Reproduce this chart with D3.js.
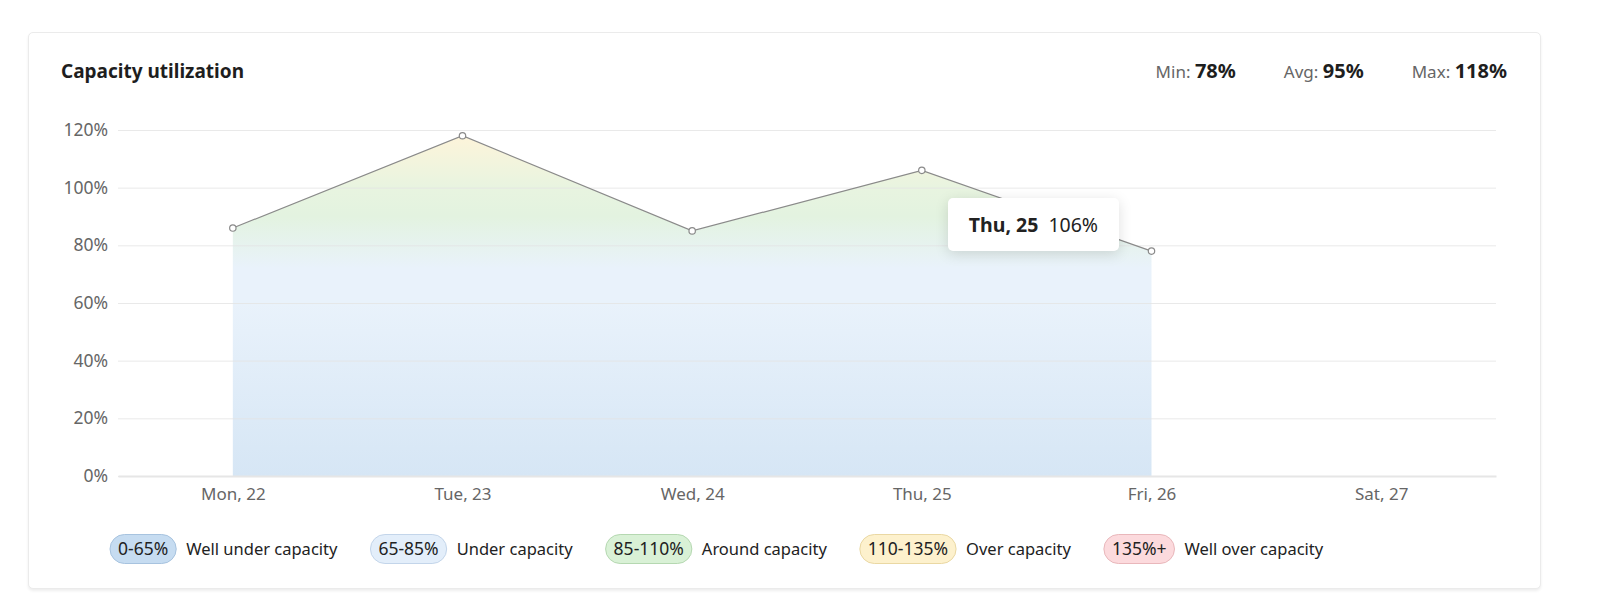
<!DOCTYPE html>
<html>
<head>
<meta charset="utf-8">
<script src="https://cdn.jsdelivr.net/npm/d3@7"></script>
<style>
html, body { margin: 0; background: #fff; font-family: "Noto Sans", sans-serif; overflow: hidden; width: 1599px; height: 611px; }
#card { position: absolute; left: 28px; top: 32px; width: 1511px; height: 555px;
  border: 1px solid #ebebeb; border-radius: 5px; box-shadow: 0 2px 3px rgba(0,0,0,0.07); background: #fff; }
svg { position: absolute; left: 0; top: 0; display: block; }
#tip { position: absolute; background: #fff; border-radius: 5px; padding: 0 21px;
  height: 53px; line-height: 53px; font-size: 19.5px; color: #222;
  box-shadow: 0 3px 14px rgba(0,0,0,0.13); white-space: nowrap; }
#tip b { margin-right: 10px; }
</style>
</head>
<body>
<div id="card"></div>
<svg width="1599" height="611"></svg>
<div id="tip"></div>
<script>
var days = ["Mon, 22", "Tue, 23", "Wed, 24", "Thu, 25", "Fri, 26", "Sat, 27"];
var utilization = [86, 118, 85, 106, 78];
var yTicks = [0, 20, 40, 60, 80, 100, 120];

var bandLabels = ["0-65%", "65-85%", "85-110%", "110-135%", "135%+"];
var bandNames = ["Well under capacity", "Under capacity", "Around capacity", "Over capacity", "Well over capacity"];
var bandFill = ["#c6dcf1", "#e3eefa", "#d9f1d6", "#fdf1cd", "#fcdadd"];
var bandStroke = ["#a7c3df", "#c3d5ea", "#b5d8b1", "#ead8a3", "#e9b7bb"];

var hovered = 3;

var margin = {top: 130, right: 103, bottom: 135, left: 118};
var width = 1599, height = 611;

var data = utilization.map((v, i) => ({day: days[i], value: v}));

var x = d3.scalePoint()
  .domain(days)
  .range([margin.left, width - margin.right])
  .padding(0.5);

var y = d3.scaleLinear()
  .domain([0, 120])
  .range([height - margin.bottom, margin.top]);

var svg = d3.select("svg");

// gradient in value space
var defs = svg.append("defs");
var grad = defs.append("linearGradient")
  .attr("id", "areaGrad")
  .attr("gradientUnits", "userSpaceOnUse")
  .attr("x1", 0).attr("x2", 0)
  .attr("y1", y(0)).attr("y2", y(120));
[[0, "#d6e6f5"], [60, "#e9f2fb"], [72, "#e9f2fb"], [90, "#e3f3e0"], [100, "#e8f4e0"], [118, "#fdf4da"]]
  .forEach(s => grad.append("stop")
    .attr("offset", s[0] / 120)
    .attr("stop-color", s[1]));

svg.append("path")
  .datum(data)
  .attr("fill", "url(#areaGrad)")
  .attr("d", d3.area()
    .x(d => x(d.day))
    .y0(y(0))
    .y1(d => y(d.value)));

// grid
svg.append("g")
  .attr("transform", `translate(${margin.left},0)`)
  .call(d3.axisLeft(y)
    .tickValues(yTicks)
    .tickSize(-(width - margin.right - margin.left))
    .tickFormat(d => d + "%"))
  .call(g => g.select(".domain").remove())
  .call(g => g.selectAll(".tick line").attr("stroke", "#e4e4e4").attr("stroke-opacity", 0.8))
  .call(g => g.selectAll(".tick text")
    .attr("x", -10)
    .attr("fill", "#666")
    .attr("font-size", 17.5)
    .attr("font-family", "Noto Sans"));

svg.append("g")
  .attr("transform", `translate(0,${height - margin.bottom})`)
  .call(d3.axisBottom(x).tickSize(0).tickPadding(12))
  .call(g => g.select(".domain").attr("stroke", "#e6e6e6").attr("stroke-width", 2))
  .call(g => g.selectAll(".tick text")
    .attr("fill", "#666")
    .attr("font-size", 17)
    .attr("font-family", "Noto Sans"));

svg.append("path")
  .datum(data)
  .attr("fill", "none")
  .attr("stroke", "#8a8a8a")
  .attr("stroke-width", 1.2)
  .attr("d", d3.line().x(d => x(d.day)).y(d => y(d.value)));

svg.append("g")
  .selectAll("circle")
  .data(data)
  .join("circle")
  .attr("cx", d => x(d.day))
  .attr("cy", d => y(d.value))
  .attr("r", 3.2)
  .attr("fill", "#fff")
  .attr("stroke", "#8a8a8a")
  .attr("stroke-width", 1.2);

// title + stats
svg.append("text")
  .attr("x", 61).attr("y", 78)
  .attr("font-size", 19).attr("font-weight", "bold")
  .attr("fill", "#1e1e1e")
  .text("Capacity utilization");

var stats = [["Max: ", d3.max(utilization)], ["Avg: ", Math.round(d3.mean(utilization))], ["Min: ", d3.min(utilization)]];
var sx = 1507;
stats.forEach(s => {
  var t = svg.append("text")
    .attr("y", 78).attr("text-anchor", "end");
  t.append("tspan").attr("font-size", 17).attr("fill", "#666").text(s[0]);
  t.append("tspan").attr("font-size", 20).attr("font-weight", "bold").attr("fill", "#1e1e1e").text(s[1] + "%");
  t.attr("x", sx);
  sx -= t.node().getComputedTextLength() + 48;
});

// legend
var lx = 110;
bandLabels.forEach((lab, i) => {
  var g = svg.append("g");
  var t = g.append("text")
    .attr("x", lx + 8).attr("y", 555)
    .attr("font-size", 17.5).attr("fill", "#222")
    .text(lab);
  var w = t.node().getComputedTextLength() + 16;
  g.insert("rect", "text")
    .attr("x", lx).attr("y", 534.5)
    .attr("width", w).attr("height", 29)
    .attr("rx", 14.5)
    .attr("fill", bandFill[i])
    .attr("stroke", bandStroke[i]);
  var n = g.append("text")
    .attr("x", lx + w + 10).attr("y", 555)
    .attr("font-size", 16.5).attr("fill", "#222")
    .text(bandNames[i]);
  lx += w + 10 + n.node().getComputedTextLength() + 33;
});

// tooltip for hovered point
var hp = data[hovered];
d3.select("#tip")
  .style("left", (x(hp.day) + 26) + "px")
  .style("top", (y(hp.value) + 28) + "px")
  .html(`<b>${hp.day}</b>${hp.value}%`);
</script>
</body>
</html>
